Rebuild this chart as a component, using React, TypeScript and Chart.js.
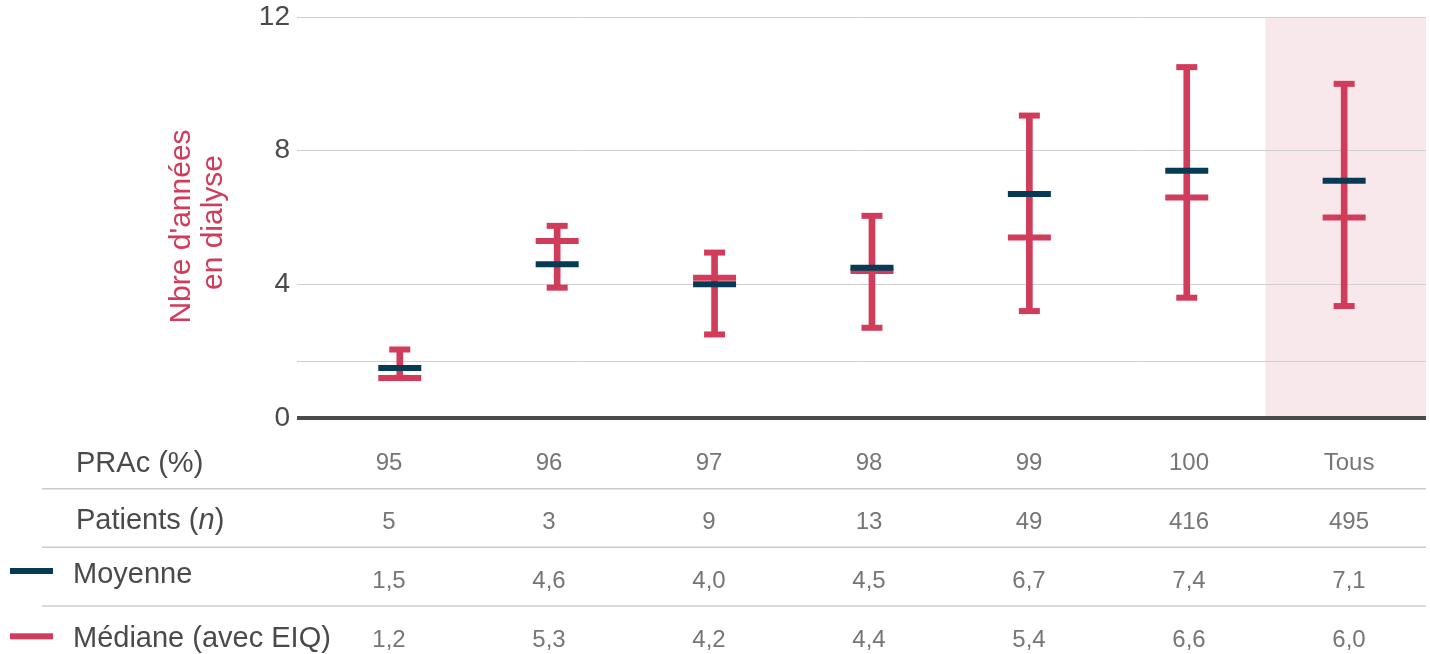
import { useEffect, useRef } from 'react';
import { Chart, registerables } from 'chart.js';

Chart.register(...registerables);

// PRAc groups and their summary statistics (years on dialysis)
const categories = ['95', '96', '97', '98', '99', '100', 'Tous'];
const patients = [5, 3, 9, 13, 49, 416, 495];
const meanYears = [1.5, 4.6, 4.0, 4.5, 6.7, 7.4, 7.1];
const medianYears = [1.2, 5.3, 4.2, 4.4, 5.4, 6.6, 6.0];
const q1Years = [1.2, 3.9, 2.5, 2.7, 3.2, 3.6, 3.35];
const q3Years = [2.05, 5.75, 4.95, 6.05, 9.05, 10.5, 10.0];

const yTicks = [0, 4, 8, 12];
const yExtraGrid = [1.7];
const highlightIndex = 6;

const RED = '#D13C5A';
const NAVY = '#073B53';
const PINK = '#F8E8EC';
const GRID = '#cfcfcf';
const AXIS = '#4d4a4a';
const LABEL = '#4a4a4a';
const VALUE = '#767676';
const FONT = '"Liberation Sans", Arial, Helvetica, sans-serif';

const fmt = (v: number) => v.toFixed(1).replace('.', ',');

// Table rows under the plot: label, cell texts, text baselines
const tableRows = [
  { label: 'PRAc (%)', cells: categories, labelBase: 472, cellBase: 470 },
  { label: 'Patients (n)', cells: patients.map(String), labelBase: 529, cellBase: 529 },
  { label: 'Moyenne', cells: meanYears.map(fmt), labelBase: 583, cellBase: 588, swatch: NAVY, swatchY: 571 },
  { label: 'Médiane (avec EIQ)', cells: medianYears.map(fmt), labelBase: 646.5, cellBase: 647, swatch: RED, swatchY: 636.3 },
];
const separators = [488.7, 547.3, 606];

const highlightPlugin = {
  id: 'highlightBand',
  beforeDraw(chart: any) {
    const { ctx, chartArea, scales } = chart;
    const x0 = scales.x.getPixelForValue(highlightIndex - 0.5);
    ctx.save();
    ctx.fillStyle = PINK;
    ctx.fillRect(x0, chartArea.top, chartArea.right - x0, chartArea.bottom - chartArea.top);
    ctx.restore();
  },
};

const tablePlugin = {
  id: 'summaryTable',
  afterDraw(chart: any) {
    const { ctx, scales } = chart;
    const xt = scales.xTable;
    ctx.save();

    // y-axis title, two rotated lines
    ctx.fillStyle = RED;
    ctx.font = `30px ${FONT}`;
    ctx.textAlign = 'center';
    ctx.textBaseline = 'alphabetic';
    const titleLines = [
      { text: "Nbre d'années", x: 190, y: 226.5 },
      { text: 'en dialyse', x: 222, y: 222.5 },
    ];
    for (const t of titleLines) {
      ctx.save();
      ctx.translate(t.x, t.y);
      ctx.rotate(-Math.PI / 2);
      ctx.fillText(t.text, 0, 0);
      ctx.restore();
    }

    // row separators
    ctx.strokeStyle = '#cccccc';
    ctx.lineWidth = 1.5;
    for (const y of separators) {
      ctx.beginPath();
      ctx.moveTo(42, y);
      ctx.lineTo(1426, y);
      ctx.stroke();
    }

    for (const row of tableRows) {
      // row label
      ctx.textAlign = 'left';
      ctx.fillStyle = LABEL;
      ctx.font = `29px ${FONT}`;
      const lx = row.swatch ? 73 : 76;
      if (row.label === 'Patients (n)') {
        const a = 'Patients (';
        ctx.fillText(a, lx, row.labelBase);
        let w = ctx.measureText(a).width;
        ctx.font = `italic 29px ${FONT}`;
        ctx.fillText('n', lx + w, row.labelBase);
        w += ctx.measureText('n').width;
        ctx.font = `29px ${FONT}`;
        ctx.fillText(')', lx + w, row.labelBase);
      } else {
        ctx.fillText(row.label, lx, row.labelBase);
      }
      if (row.swatch) {
        ctx.fillStyle = row.swatch;
        ctx.fillRect(10, row.swatchY! - 3, 43, 6);
      }
      // cells
      ctx.textAlign = 'center';
      ctx.fillStyle = VALUE;
      ctx.font = `24px ${FONT}`;
      row.cells.forEach((c, i) => {
        ctx.fillText(c, xt.getPixelForValue(i), row.cellBase);
      });
    }
    ctx.restore();
  },
};

export default function App() {
  const ref = useRef<HTMLCanvasElement>(null);

  useEffect(() => {
    const canvas = ref.current;
    if (!canvas) return;
    const idx = categories.map((_, i) => i);
    const pointSet = (values: number[], color: string, radius: number, order: number, label: string) => ({
      type: 'scatter' as const,
      label,
      data: idx.map((i) => ({ x: i, y: values[i] })),
      pointStyle: 'line',
      pointRadius: radius,
      pointHoverRadius: radius,
      pointBorderWidth: 6,
      pointHoverBorderWidth: 6,
      pointBorderColor: color,
      pointBackgroundColor: color,
      borderColor: color,
      showLine: false,
      order,
    });

    const chart = new Chart(canvas, {
      type: 'bar',
      data: {
        datasets: [
          pointSet(meanYears, NAVY, 21.5, 0, 'Moyenne'),
          pointSet(medianYears, RED, 21.5, 1, 'Médiane'),
          pointSet(q1Years, RED, 10.5, 2, 'Q1'),
          pointSet(q3Years, RED, 10.5, 2, 'Q3'),
          {
            type: 'bar' as const,
            label: 'EIQ',
            data: idx.map((i) => ({ x: i, y: [q1Years[i], q3Years[i]] })) as any,
            backgroundColor: RED,
            borderWidth: 0,
            barThickness: 6,
            order: 3,
          },
        ] as any,
      },
      options: {
        responsive: false,
        animation: false,
        events: [],
        layout: { autoPadding: false, padding: { left: 0, top: 17, right: 4, bottom: 236 } },
        plugins: { legend: { display: false }, tooltip: { enabled: false } },
        scales: {
          x: { type: 'linear', min: -0.653, max: 6.52, offset: false, display: false },
          xTable: { type: 'linear', axis: 'x', position: 'bottom', min: -0.575, max: 6.481, offset: false, display: false },
          y: {
            type: 'linear',
            min: 0,
            max: 12,
            afterFit(scale: any) {
              scale.width = 297;
              scale.paddingTop = 0;
              scale.paddingBottom = 0;
            },
            afterBuildTicks(scale: any) {
              scale.ticks = [...yTicks, ...yExtraGrid].sort((a, b) => a - b).map((v) => ({ value: v }));
            },
            ticks: {
              padding: 7,
              color: LABEL,
              font: { family: FONT, size: 28 },
              callback: (v: any) => (yTicks.includes(Number(v)) ? String(v) : ''),
            },
            grid: {
              drawTicks: false,
              color: (c: any) => (c.tick && c.tick.value === 0 ? AXIS : GRID),
              lineWidth: (c: any) => (c.tick && c.tick.value === 0 ? 4 : 1),
            },
            border: { display: false },
          },
        } as any,
      },
      plugins: [highlightPlugin, tablePlugin],
    });
    return () => chart.destroy();
  }, []);

  return (
    <div style={{ position: 'fixed', left: 0, top: 0, width: 1430, height: 654, background: '#fff' }}>
      <canvas ref={ref} width={1430} height={654} style={{ width: 1430, height: 654, display: 'block' }} />
    </div>
  );
}
